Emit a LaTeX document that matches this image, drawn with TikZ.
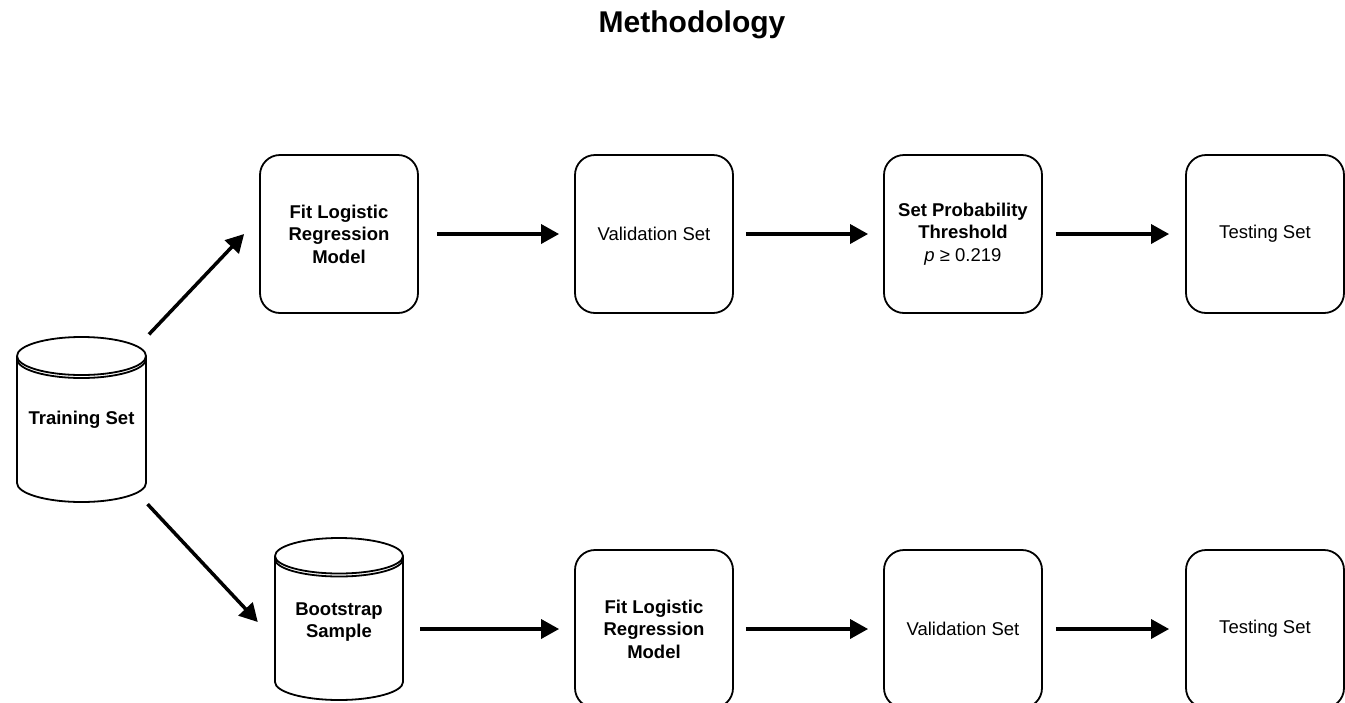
\documentclass[tikz,border=0pt]{standalone}
\usepackage{fontspec}
\setmainfont{Liberation Sans}
\usetikzlibrary{arrows.meta}
\begin{document}
\begin{tikzpicture}[x=1pt,y=-1pt,
  box/.style={draw, line width=1.8pt, rounded corners=20pt, minimum width=158pt, minimum height=158pt, inner sep=0pt, align=center, font=\fontsize{18.5}{22.5}\selectfont},
  bbox/.style={box, font=\fontsize{18.5}{22.5}\selectfont\bfseries},
  cyltext/.style={inner sep=0pt, align=center, font=\fontsize{18.5}{22.5}\selectfont\bfseries},
  cyl/.style={draw, line width=1.8pt},
  arr/.style={line width=3.5pt, -{Triangle[length=18pt,width=19pt]}, shorten <=13pt, shorten >=15pt},
  darr/.style={line width=3.5pt, -{Triangle[length=18pt,width=19pt]}},
]
\useasboundingbox (0,0) rectangle (1345,702);
\clip (0,0) rectangle (1345,702);

\node[font=\fontsize{30}{36}\selectfont\bfseries] (title) at (692,25) {Methodology};

% top row
\node[bbox] (fit1) at (339,234) {Fit Logistic\\Regression\\Model};
\node[box] (val1) at (654,234) {Validation Set};
\node[box] (thr) at (963,234) {\textbf{Set Probability}\\\textbf{Threshold}\\\textit{p} ≥ 0.219};
\node[box] (test1) at (1265,234) {Testing Set};

% bottom row
\node[bbox] (fit2) at (654,629) {Fit Logistic\\Regression\\Model};
\node[box] (val2) at (963,629) {Validation Set};
\node[box] (test2) at (1265,629) {Testing Set};

% Training Set cylinder
\draw[cyl, fill=white] (17,356) -- (17,483)
  arc[start angle=180, end angle=360, x radius=64.5pt, y radius=19pt]
  -- (146,356)
  arc[start angle=0, end angle=180, x radius=64.5pt, y radius=19pt];
\draw[cyl] (17,356) arc[start angle=180, end angle=360, x radius=64.5pt, y radius=19pt];
\draw[cyl] (17,359) arc[start angle=180, end angle=360, x radius=64.5pt, y radius=19pt];
\node[cyltext, minimum width=129pt, minimum height=165pt] (train) at (81.5,420) {Training Set};

% Bootstrap Sample cylinder
\draw[cyl] (275,556) -- (275,682)
  arc[start angle=180, end angle=360, x radius=64pt, y radius=18pt]
  -- (403,556)
  arc[start angle=0, end angle=180, x radius=64pt, y radius=18pt];
\draw[cyl] (275,556) arc[start angle=180, end angle=360, x radius=64pt, y radius=17.5pt];
\draw[cyl] (275,559) arc[start angle=180, end angle=360, x radius=64pt, y radius=17.5pt];
\node[cyltext, minimum width=128pt, minimum height=162pt] (boot) at (339,622) {Bootstrap\\Sample};

% arrows
\draw[darr, shorten <=4pt] (train.north east) -- ([xshift=-15pt]fit1.west);
\draw[darr, shorten <=2pt] (train.south east) -- ([shift={(-17,0)}]boot.west);

\draw[arr, shorten <=18pt] (fit1) -- (val1);
\draw[arr, shorten <=12pt] (val1) -- (thr);
\draw[arr, shorten >=16pt] (thr) -- (test1);

\draw[arr, shorten <=17pt] (boot.east |- fit2.west) -- (fit2.west);
\draw[arr, shorten <=12pt] (fit2) -- (val2);
\draw[arr, shorten >=16pt] (val2) -- (test2);
\end{tikzpicture}
\end{document}
